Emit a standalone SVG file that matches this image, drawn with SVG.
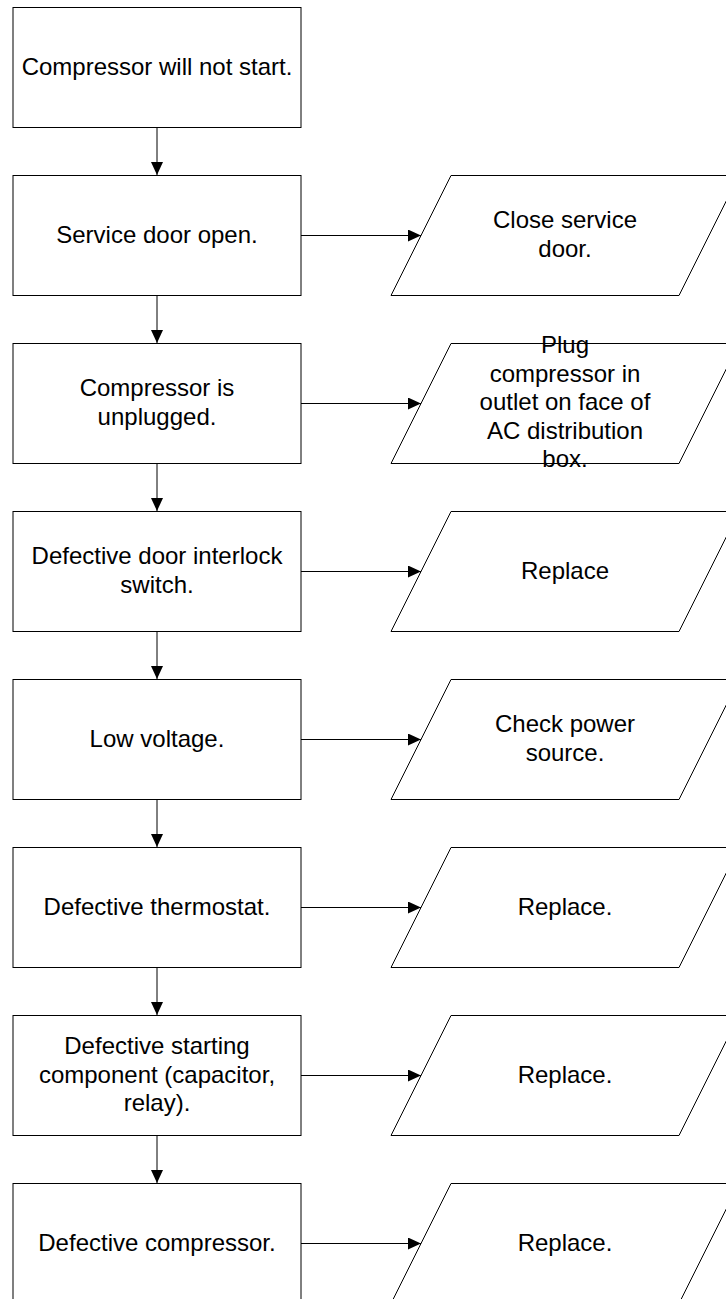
<svg xmlns="http://www.w3.org/2000/svg" width="726" height="1299" viewBox="0 0 726 1299">
  <style>
    .box { fill: #ffffff; stroke: #000000; stroke-width: 1; }
    .lbl { font-family: "Liberation Sans", Arial, sans-serif; font-size: 24px; fill: #000000; text-anchor: middle; }
    .link { fill: none; stroke: #000000; stroke-width: 1; marker-end: url(#head); }
  </style>
  <defs>
    <marker id="head" markerUnits="userSpaceOnUse" markerWidth="14" markerHeight="12" refX="13" refY="6" orient="auto">
      <path d="M0,0 L13,6 L0,12 z" fill="#000000"/>
    </marker>
  </defs>
  <rect width="726" height="1299" fill="#ffffff"/>

  <!-- cause column (rectangles) -->
  <g id="cause-start">
    <rect class="box" x="13" y="7.5" width="288" height="120"/>
    <text class="lbl" x="157" y="75">Compressor will not start.</text>
  </g>
  <g id="cause-door">
    <rect class="box" x="13" y="175.5" width="288" height="120"/>
    <text class="lbl" x="157" y="243">Service door open.</text>
  </g>
  <g id="cause-unplugged">
    <rect class="box" x="13" y="343.5" width="288" height="120"/>
    <text class="lbl" x="157" y="396">Compressor is</text>
    <text class="lbl" x="157" y="424.5">unplugged.</text>
  </g>
  <g id="cause-interlock">
    <rect class="box" x="13" y="511.5" width="288" height="120"/>
    <text class="lbl" x="157" y="564">Defective door interlock</text>
    <text class="lbl" x="157" y="592.5">switch.</text>
  </g>
  <g id="cause-voltage">
    <rect class="box" x="13" y="679.5" width="288" height="120"/>
    <text class="lbl" x="157" y="747">Low voltage.</text>
  </g>
  <g id="cause-thermostat">
    <rect class="box" x="13" y="847.5" width="288" height="120"/>
    <text class="lbl" x="157" y="915">Defective thermostat.</text>
  </g>
  <g id="cause-starting">
    <rect class="box" x="13" y="1015.5" width="288" height="120"/>
    <text class="lbl" x="157" y="1054">Defective starting</text>
    <text class="lbl" x="157" y="1082.5">component (capacitor,</text>
    <text class="lbl" x="157" y="1111">relay).</text>
  </g>
  <g id="cause-compressor">
    <rect class="box" x="13" y="1183.5" width="288" height="120"/>
    <text class="lbl" x="157" y="1251">Defective compressor.</text>
  </g>

  <!-- remedy column (parallelograms) -->
  <g id="fix-door">
    <polygon class="box" points="451,175.5 739,175.5 679,295.5 391,295.5"/>
    <text class="lbl" x="565" y="228">Close service</text>
    <text class="lbl" x="565" y="256.5">door.</text>
  </g>
  <g id="fix-plug">
    <polygon class="box" points="451,343.5 739,343.5 679,463.5 391,463.5"/>
    <text class="lbl" x="565" y="353">Plug</text>
    <text class="lbl" x="565" y="381.5">compressor in</text>
    <text class="lbl" x="565" y="410">outlet on face of</text>
    <text class="lbl" x="565" y="438.5">AC distribution</text>
    <text class="lbl" x="565" y="467">box.</text>
  </g>
  <g id="fix-interlock">
    <polygon class="box" points="451,511.5 739,511.5 679,631.5 391,631.5"/>
    <text class="lbl" x="565" y="579">Replace</text>
  </g>
  <g id="fix-voltage">
    <polygon class="box" points="451,679.5 739,679.5 679,799.5 391,799.5"/>
    <text class="lbl" x="565" y="732">Check power</text>
    <text class="lbl" x="565" y="760.5">source.</text>
  </g>
  <g id="fix-thermostat">
    <polygon class="box" points="451,847.5 739,847.5 679,967.5 391,967.5"/>
    <text class="lbl" x="565" y="915">Replace.</text>
  </g>
  <g id="fix-starting">
    <polygon class="box" points="451,1015.5 739,1015.5 679,1135.5 391,1135.5"/>
    <text class="lbl" x="565" y="1083">Replace.</text>
  </g>
  <g id="fix-compressor">
    <polygon class="box" points="451,1183.5 739,1183.5 679,1303.5 391,1303.5"/>
    <text class="lbl" x="565" y="1251">Replace.</text>
  </g>

  <!-- connectors -->
  <g id="connectors">
    <line class="link" x1="157" y1="128" x2="157" y2="175"/>
    <line class="link" x1="157" y1="296" x2="157" y2="343"/>
    <line class="link" x1="157" y1="464" x2="157" y2="511"/>
    <line class="link" x1="157" y1="632" x2="157" y2="679"/>
    <line class="link" x1="157" y1="800" x2="157" y2="847"/>
    <line class="link" x1="157" y1="968" x2="157" y2="1015"/>
    <line class="link" x1="157" y1="1136" x2="157" y2="1183"/>

    <line class="link" x1="301" y1="235.5" x2="421" y2="235.5"/>
    <line class="link" x1="301" y1="403.5" x2="421" y2="403.5"/>
    <line class="link" x1="301" y1="571.5" x2="421" y2="571.5"/>
    <line class="link" x1="301" y1="739.5" x2="421" y2="739.5"/>
    <line class="link" x1="301" y1="907.5" x2="421" y2="907.5"/>
    <line class="link" x1="301" y1="1075.5" x2="421" y2="1075.5"/>
    <line class="link" x1="301" y1="1243.5" x2="421" y2="1243.5"/>
  </g>
</svg>
